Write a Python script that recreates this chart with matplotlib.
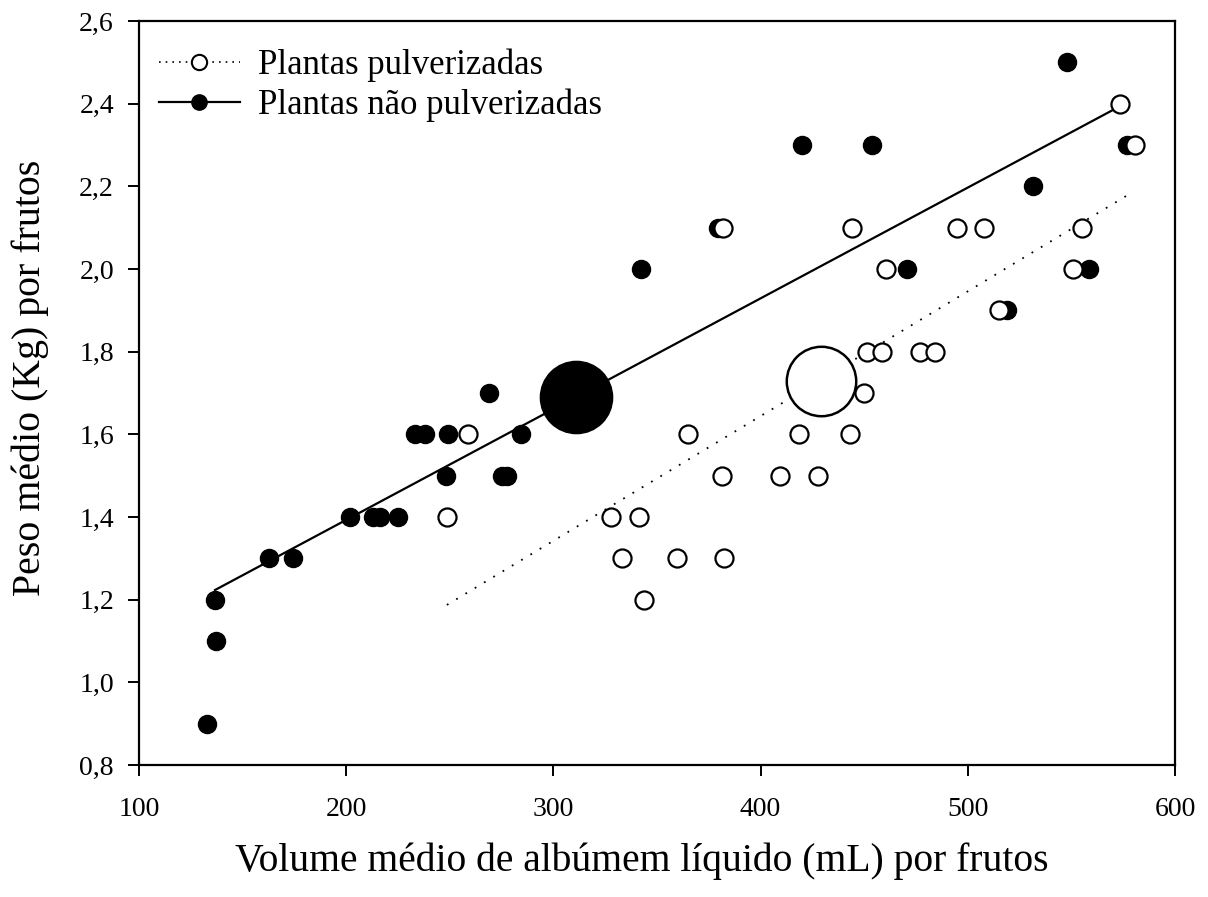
import matplotlib
matplotlib.use("Agg")
import matplotlib.pyplot as plt
from matplotlib.lines import Line2D

plt.rcParams['font.family'] = ['Liberation Serif', 'DejaVu Serif']

# Sprayed plants (open circles)
pulv_x = [248.6, 258.8, 327.8, 341.3, 333.3, 359.5, 343.7, 365.0, 381.4, 382.3,
          382.0, 409.4, 418.5, 427.7, 443.1, 444.1, 449.9, 451.4, 458.6, 460.5,
          476.9, 484.2, 494.8, 507.8, 515.0, 550.8, 555.1, 573.5, 580.7]
pulv_y = [1.4, 1.6, 1.4, 1.4, 1.3, 1.3, 1.2, 1.6, 1.5, 1.3,
          2.1, 1.5, 1.6, 1.5, 1.6, 2.1, 1.7, 1.8, 1.8, 2.0,
          1.8, 1.8, 2.1, 2.1, 1.9, 2.0, 2.1, 2.4, 2.3]

# Unsprayed plants (filled circles)
nao_x = [132.8, 137.2, 136.7, 162.7, 174.3, 201.8, 212.9, 216.3, 225.0, 233.2,
         238.0, 248.2, 249.1, 268.9, 275.2, 277.6, 284.4, 342.3, 379.5, 420.0,
         453.8, 470.7, 519.0, 531.5, 547.9, 558.5, 576.8]
nao_y = [0.9, 1.1, 1.2, 1.3, 1.3, 1.4, 1.4, 1.4, 1.4, 1.6,
         1.6, 1.5, 1.6, 1.7, 1.5, 1.5, 1.6, 2.0, 2.1, 2.3,
         2.3, 2.0, 1.9, 2.2, 2.5, 2.0, 2.3]

# Group means (large circles)
mean_pulv = (429.2, 1.73)
mean_nao = (310.9, 1.69)

# Linear regressions: y = a + b*x, drawn over each group's range
reg_pulv = (0.437, 0.003018)
reg_pulv_range = (248.6, 578.3)
reg_nao = (0.857, 0.00268)
reg_nao_range = (136.7, 577.3)

xticks = [100, 200, 300, 400, 500, 600]
yticks = [0.8, 1.0, 1.2, 1.4, 1.6, 1.8, 2.0, 2.2, 2.4, 2.6]

fig = plt.figure(figsize=(12.08, 8.97), dpi=100)
ax = fig.add_axes([139/1208, 132/897, 1036/1208, 744/897])

# regression lines
xs = list(reg_nao_range)
ax.plot(xs, [reg_nao[0] + reg_nao[1]*x for x in xs], color='black', lw=1.6, zorder=2)
xs = list(reg_pulv_range)
ax.plot(xs, [reg_pulv[0] + reg_pulv[1]*x for x in xs], color='black', lw=1.3,
        linestyle=(0, (1, 5)), zorder=2)

ms = 13
ax.plot(nao_x, nao_y, 'o', color='black', ms=ms, zorder=3, linestyle='none')
ax.plot(pulv_x, pulv_y, 'o', mfc='white', mec='black', mew=1.6, ms=ms, zorder=4,
        linestyle='none')
ax.plot(*mean_nao, 'o', color='black', ms=52, zorder=3)
ax.plot(*mean_pulv, 'o', mfc='white', mec='black', mew=1.8, ms=50, zorder=4)

ax.set_xlim(100, 600)
ax.set_ylim(0.8, 2.6)
ax.set_xticks(xticks)
ax.set_yticks(yticks)
ax.set_xticklabels([str(t) for t in xticks])
ax.set_yticklabels([f"{t:.1f}".replace('.', ',') for t in yticks])
ax.tick_params(direction='out', length=8, width=1.4, labelsize=20,
               top=False, right=False)
ax.tick_params(axis='x', pad=15)
ax.tick_params(axis='y', pad=10)
for s in ax.spines.values():
    s.set_linewidth(1.6)

ax.set_xlabel("Volume médio de albúmem líquido (mL) por frutos", fontsize=28.5)
ax.set_ylabel("Peso médio (Kg) por frutos", fontsize=28.7)
ax.xaxis.set_label_coords(0.4855, -0.104)
ax.yaxis.set_label_coords(-0.087, 0.52)

handles = [
    Line2D([], [], color='black', lw=1.2, linestyle=(0, (1, 3)), marker='o',
           mfc='white', mec='black', mew=1.5, ms=11),
    Line2D([], [], color='black', lw=1.6, marker='o', ms=11),
]
ax.legend(handles, ["Plantas pulverizadas", "Plantas não pulverizadas"],
          loc='upper left', frameon=False, fontsize=25, handlelength=2.33,
          handletextpad=0.52, borderaxespad=0.0, borderpad=0.0, labelspacing=0.17,
          bbox_to_anchor=(0.019, 0.9626))

fig.savefig("out.png", dpi=100)
